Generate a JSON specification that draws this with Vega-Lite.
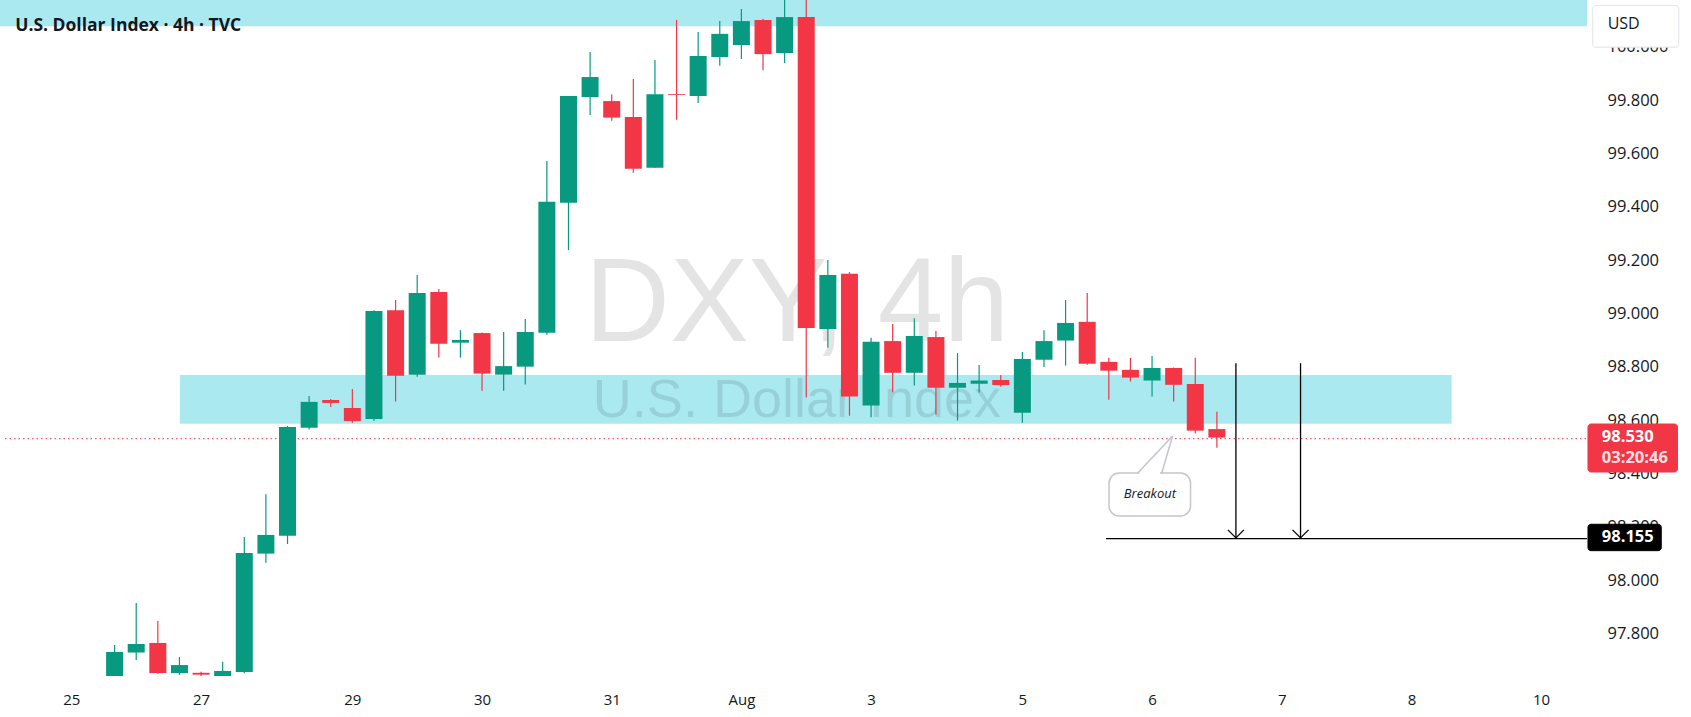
{
  "$schema": "https://vega.github.io/schema/vega-lite/v6.json",
  "description": "DXY 4h candles with support zone, breakout note and 98.155 target",
  "autosize": {"type": "none"},
  "padding": {"left": 0, "top": 0, "right": 99, "bottom": 41},
  "width": 1592,
  "height": 676,
  "background": "#ffffff",
  "config": {
    "view": {"stroke": null},
    "axis": {"grid": false, "domain": false, "ticks": false, "tickSize": 0, "labelFont": "Open Sans", "labelColor": "#131722", "labelFontSize": 16}
  },
  "datasets": {
    "candles": [
      {"i": 0, "o": 97.58, "h": 97.756, "l": 97.56, "c": 97.73},
      {"i": 1, "o": 97.728, "h": 97.914, "l": 97.7, "c": 97.76},
      {"i": 2, "o": 97.764, "h": 97.846, "l": 97.648, "c": 97.651},
      {"i": 3, "o": 97.651, "h": 97.711, "l": 97.644, "c": 97.681},
      {"i": 4, "o": 97.652, "h": 97.656, "l": 97.6, "c": 97.645},
      {"i": 5, "o": 97.62, "h": 97.693, "l": 97.6, "c": 97.659},
      {"i": 6, "o": 97.655, "h": 98.161, "l": 97.65, "c": 98.101},
      {"i": 7, "o": 98.099, "h": 98.322, "l": 98.065, "c": 98.169},
      {"i": 8, "o": 98.166, "h": 98.578, "l": 98.135, "c": 98.574},
      {"i": 9, "o": 98.571, "h": 98.69, "l": 98.564, "c": 98.668},
      {"i": 10, "o": 98.675, "h": 98.679, "l": 98.649, "c": 98.664},
      {"i": 11, "o": 98.645, "h": 98.716, "l": 98.59, "c": 98.596},
      {"i": 12, "o": 98.604, "h": 99.012, "l": 98.596, "c": 99.009},
      {"i": 13, "o": 99.012, "h": 99.05, "l": 98.669, "c": 98.766},
      {"i": 14, "o": 98.77, "h": 99.144, "l": 98.762, "c": 99.076},
      {"i": 15, "o": 99.08, "h": 99.091, "l": 98.834, "c": 98.886},
      {"i": 16, "o": 98.89, "h": 98.937, "l": 98.834, "c": 98.9},
      {"i": 17, "o": 98.926, "h": 98.928, "l": 98.71, "c": 98.774},
      {"i": 18, "o": 98.77, "h": 98.93, "l": 98.71, "c": 98.802},
      {"i": 19, "o": 98.8, "h": 98.979, "l": 98.733, "c": 98.93},
      {"i": 20, "o": 98.927, "h": 99.571, "l": 98.92, "c": 99.418},
      {"i": 21, "o": 99.415, "h": 99.815, "l": 99.237, "c": 99.815},
      {"i": 22, "o": 99.811, "h": 99.98, "l": 99.744, "c": 99.886},
      {"i": 23, "o": 99.796, "h": 99.822, "l": 99.722, "c": 99.734},
      {"i": 24, "o": 99.736, "h": 99.879, "l": 99.527, "c": 99.542},
      {"i": 25, "o": 99.546, "h": 99.95, "l": 99.546, "c": 99.822},
      {"i": 26, "o": 99.822, "h": 100.1, "l": 99.726, "c": 99.819},
      {"i": 27, "o": 99.815, "h": 100.055, "l": 99.789, "c": 99.965},
      {"i": 28, "o": 99.961, "h": 100.096, "l": 99.928, "c": 100.048},
      {"i": 29, "o": 100.006, "h": 100.141, "l": 99.954, "c": 100.096},
      {"i": 30, "o": 100.1, "h": 100.105, "l": 99.912, "c": 99.972},
      {"i": 31, "o": 99.976, "h": 100.2, "l": 99.939, "c": 100.111},
      {"i": 32, "o": 100.111, "h": 100.2, "l": 98.684, "c": 98.945},
      {"i": 33, "o": 98.941, "h": 99.2, "l": 98.871, "c": 99.144},
      {"i": 34, "o": 99.148, "h": 99.155, "l": 98.616, "c": 98.688},
      {"i": 35, "o": 98.654, "h": 98.908, "l": 98.61, "c": 98.893},
      {"i": 36, "o": 98.896, "h": 98.96, "l": 98.703, "c": 98.777},
      {"i": 37, "o": 98.777, "h": 98.982, "l": 98.729, "c": 98.915},
      {"i": 38, "o": 98.911, "h": 98.934, "l": 98.62, "c": 98.721},
      {"i": 39, "o": 98.721, "h": 98.851, "l": 98.598, "c": 98.739},
      {"i": 40, "o": 98.736, "h": 98.806, "l": 98.703, "c": 98.748},
      {"i": 41, "o": 98.75, "h": 98.769, "l": 98.725, "c": 98.731},
      {"i": 42, "o": 98.627, "h": 98.855, "l": 98.59, "c": 98.829},
      {"i": 43, "o": 98.826, "h": 98.937, "l": 98.799, "c": 98.896},
      {"i": 44, "o": 98.898, "h": 99.05, "l": 98.804, "c": 98.964},
      {"i": 45, "o": 98.968, "h": 99.076, "l": 98.807, "c": 98.811},
      {"i": 46, "o": 98.818, "h": 98.833, "l": 98.676, "c": 98.785},
      {"i": 47, "o": 98.788, "h": 98.833, "l": 98.744, "c": 98.759},
      {"i": 48, "o": 98.748, "h": 98.84, "l": 98.688, "c": 98.795},
      {"i": 49, "o": 98.795, "h": 98.797, "l": 98.669, "c": 98.732},
      {"i": 50, "o": 98.735, "h": 98.833, "l": 98.549, "c": 98.56},
      {"i": 51, "o": 98.566, "h": 98.631, "l": 98.496, "c": 98.534}
    ]
  },
  "layer": [
    {
      "data": {"values": [
        {"x1": -6, "x2": 68.124, "y1": 100.077, "y2": 100.5},
        {"x1": 3.02, "x2": 61.86, "y1": 98.586, "y2": 98.769}
      ]},
      "mark": {"type": "rect", "color": "#abe9f1", "clip": true},
      "encoding": {
        "x": {"field": "x1", "type": "quantitative", "title": null,
              "scale": {"domain": [-5.071, 68.124], "nice": false, "zero": false},
              "axis": {"values": [-2, 4, 11, 17, 23, 29, 35, 42, 48, 54, 60, 66],
                       "labelExpr": "['25','27','29','30','31','Aug','3','5','6','7','8','10'][indexof([-2,4,11,17,23,29,35,42,48,54,60,66], datum.value)]",
                       "labelPadding": 23, "labelBaseline": "middle", "labelFontSize": 15, "labelFlush": false, "labelOverlap": false, "title": null}},
        "x2": {"field": "x2"},
        "y": {"field": "y1", "type": "quantitative", "title": null,
              "scale": {"domain": [97.64, 100.175], "nice": false, "zero": false},
              "axis": {"orient": "right", "values": [97.8, 98, 98.2, 98.4, 98.6, 98.8, 99, 99.2, 99.4, 99.6, 99.8, 100],
                       "format": ".3f", "labelAlign": "left", "labelPadding": 15, "labelBaseline": "middle", "labelFontSize": 16.5, "labelFlush": false, "labelOverlap": false, "title": null}},
        "y2": {"field": "y2"}
      }
    },
    {
      "data": {"values": [{"x1": -5.071, "x2": 68.124, "p": 98.53}]},
      "mark": {"type": "rule", "color": "#f23645", "strokeWidth": 1, "strokeDash": [1.5, 3]},
      "encoding": {
        "x": {"field": "x1", "type": "quantitative", "title": null},
        "x2": {"field": "x2"},
        "y": {"field": "p", "type": "quantitative", "title": null}
      }
    },
    {
      "data": {"values": [
        {"t": "DXY, 4h", "x": 31.57, "y": 98.897, "s": "big"},
        {"t": "U.S. Dollar Index", "x": 31.57, "y": 98.611, "s": "small"}
      ]},
      "mark": {"type": "text", "font": "Liberation Sans", "align": "center", "baseline": "alphabetic", "color": "#000000", "opacity": 0.1},
      "encoding": {
        "x": {"field": "x", "type": "quantitative", "title": null},
        "y": {"field": "y", "type": "quantitative", "title": null},
        "text": {"field": "t"},
        "size": {"field": "s", "type": "nominal", "scale": {"domain": ["big", "small"], "range": [118, 54]}, "legend": null}
      }
    },
    {
      "data": {"name": "candles"},
      "mark": {"type": "rule", "strokeWidth": 1.2, "clip": true},
      "encoding": {
        "x": {"field": "i", "type": "quantitative", "title": null},
        "y": {"field": "l", "type": "quantitative", "title": null},
        "y2": {"field": "h"},
        "color": {"condition": {"test": "datum.c >= datum.o", "value": "#089981"}, "value": "#f23645"}
      }
    },
    {
      "data": {"name": "candles"},
      "mark": {"type": "bar", "size": 17, "clip": true, "minBandSize": 1},
      "encoding": {
        "x": {"field": "i", "type": "quantitative", "title": null},
        "y": {"field": "o", "type": "quantitative", "title": null},
        "y2": {"field": "c"},
        "color": {"condition": {"test": "datum.c >= datum.o", "value": "#089981"}, "value": "#f23645"}
      }
    },
    {
      "data": {"values": [{"x1": 45.87, "x2": 68.124, "p": 98.155}]},
      "mark": {"type": "rule", "color": "#000000", "strokeWidth": 1.2},
      "encoding": {
        "x": {"field": "x1", "type": "quantitative", "title": null},
        "x2": {"field": "x2"},
        "y": {"field": "p", "type": "quantitative", "title": null}
      }
    },
    {
      "data": {"values": [
        {"x": 51.88, "top": 98.813, "tip": 98.158},
        {"x": 54.87, "top": 98.813, "tip": 98.158}
      ]},
      "layer": [
        {
          "mark": {"type": "rule", "color": "#000000", "strokeWidth": 1.3},
          "encoding": {
            "x": {"field": "x", "type": "quantitative", "title": null},
            "y": {"field": "top", "type": "quantitative", "title": null},
            "y2": {"field": "tip"}
          }
        },
        {
          "mark": {"type": "point", "shape": "M-1,-1L0,0L1,-1", "size": 256, "filled": false, "stroke": "#000000", "strokeWidth": 1.3, "opacity": 1},
          "encoding": {
            "x": {"field": "x", "type": "quantitative", "title": null},
            "y": {"field": "tip", "type": "quantitative", "title": null}
          }
        }
      ]
    },
    {
      "data": {"values": [{"x1": 46.01, "x2": 49.78, "y1": 98.401, "y2": 98.24}]},
      "mark": {"type": "rect", "fill": "#ffffff", "stroke": "#c4c5cc", "strokeWidth": 1.5, "cornerRadius": 10},
      "encoding": {
        "x": {"field": "x1", "type": "quantitative", "title": null},
        "x2": {"field": "x2"},
        "y": {"field": "y1", "type": "quantitative", "title": null},
        "y2": {"field": "y2"}
      }
    },
    {
      "data": {"values": [{"x1": 47.42, "x2": 48.37, "p": 98.401}]},
      "mark": {"type": "rule", "color": "#ffffff", "strokeWidth": 3},
      "encoding": {
        "x": {"field": "x1", "type": "quantitative", "title": null},
        "x2": {"field": "x2"},
        "y": {"field": "p", "type": "quantitative", "title": null}
      }
    },
    {
      "data": {"values": [
        {"k": 0, "x": 47.34, "y": 98.401},
        {"k": 1, "x": 48.95, "y": 98.54},
        {"k": 2, "x": 48.45, "y": 98.401}
      ]},
      "mark": {"type": "line", "color": "#c4c5cc", "strokeWidth": 1.5},
      "encoding": {
        "x": {"field": "x", "type": "quantitative", "title": null},
        "y": {"field": "y", "type": "quantitative", "title": null},
        "order": {"field": "k"}
      }
    },
    {
      "data": {"values": [{"t": "Breakout", "x": 47.9, "y": 98.322}]},
      "mark": {"type": "text", "font": "Open Sans", "fontSize": 13, "fontStyle": "italic", "color": "#131722", "align": "center", "baseline": "middle"},
      "encoding": {
        "x": {"field": "x", "type": "quantitative", "title": null},
        "y": {"field": "y", "type": "quantitative", "title": null},
        "text": {"field": "t"}
      }
    },
    {
      "data": {"values": [
        {"x1": 68.17, "x2": 72.31, "y1": 98.585, "y2": 98.405, "f": "red"},
        {"x1": 68.17, "x2": 71.56, "y1": 98.209, "y2": 98.11, "f": "black"},
        {"x1": 68.39, "x2": 72.37, "y1": 100.154, "y2": 99.998, "f": "white"}
      ]},
      "mark": {"type": "rect", "cornerRadius": 3, "clip": false},
      "encoding": {
        "x": {"field": "x1", "type": "quantitative", "title": null},
        "x2": {"field": "x2"},
        "y": {"field": "y1", "type": "quantitative", "title": null},
        "y2": {"field": "y2"},
        "fill": {"field": "f", "type": "nominal", "scale": {"domain": ["red", "black", "white"], "range": ["#f23645", "#000000", "#ffffff"]}, "legend": null},
        "stroke": {"field": "f", "type": "nominal", "scale": {"domain": ["red", "black", "white"], "range": ["#f23645", "#000000", "#e0e3eb"]}, "legend": null}
      }
    },
    {
      "data": {"values": [
        {"t": "98.530", "x": 68.81, "y": 98.537, "k": "price"},
        {"t": "03:20:46", "x": 68.81, "y": 98.457, "k": "timer"},
        {"t": "98.155", "x": 68.81, "y": 98.16, "k": "price"}
      ]},
      "mark": {"type": "text", "font": "Open Sans", "fontSize": 16.5, "fontWeight": "bold", "align": "left", "baseline": "middle", "clip": false},
      "encoding": {
        "x": {"field": "x", "type": "quantitative", "title": null},
        "y": {"field": "y", "type": "quantitative", "title": null},
        "text": {"field": "t"},
        "color": {"field": "k", "type": "nominal", "scale": {"domain": ["price", "timer"], "range": ["#ffffff", "#fde0e3"]}, "legend": null}
      }
    },
    {
      "data": {"values": [{"t": "USD", "x": 69.08, "y": 100.084}]},
      "mark": {"type": "text", "font": "Open Sans", "fontSize": 16, "color": "#131722", "align": "left", "baseline": "middle", "clip": false},
      "encoding": {
        "x": {"field": "x", "type": "quantitative", "title": null},
        "y": {"field": "y", "type": "quantitative", "title": null},
        "text": {"field": "t"}
      }
    },
    {
      "data": {"values": [{"t": "U.S. Dollar Index · 4h · TVC", "x": -4.6, "y": 100.059}]},
      "mark": {"type": "text", "font": "Open Sans", "fontSize": 17.5, "fontWeight": "bold", "color": "#131722", "align": "left", "baseline": "alphabetic"},
      "encoding": {
        "x": {"field": "x", "type": "quantitative", "title": null},
        "y": {"field": "y", "type": "quantitative", "title": null},
        "text": {"field": "t"}
      }
    }
  ]
}
